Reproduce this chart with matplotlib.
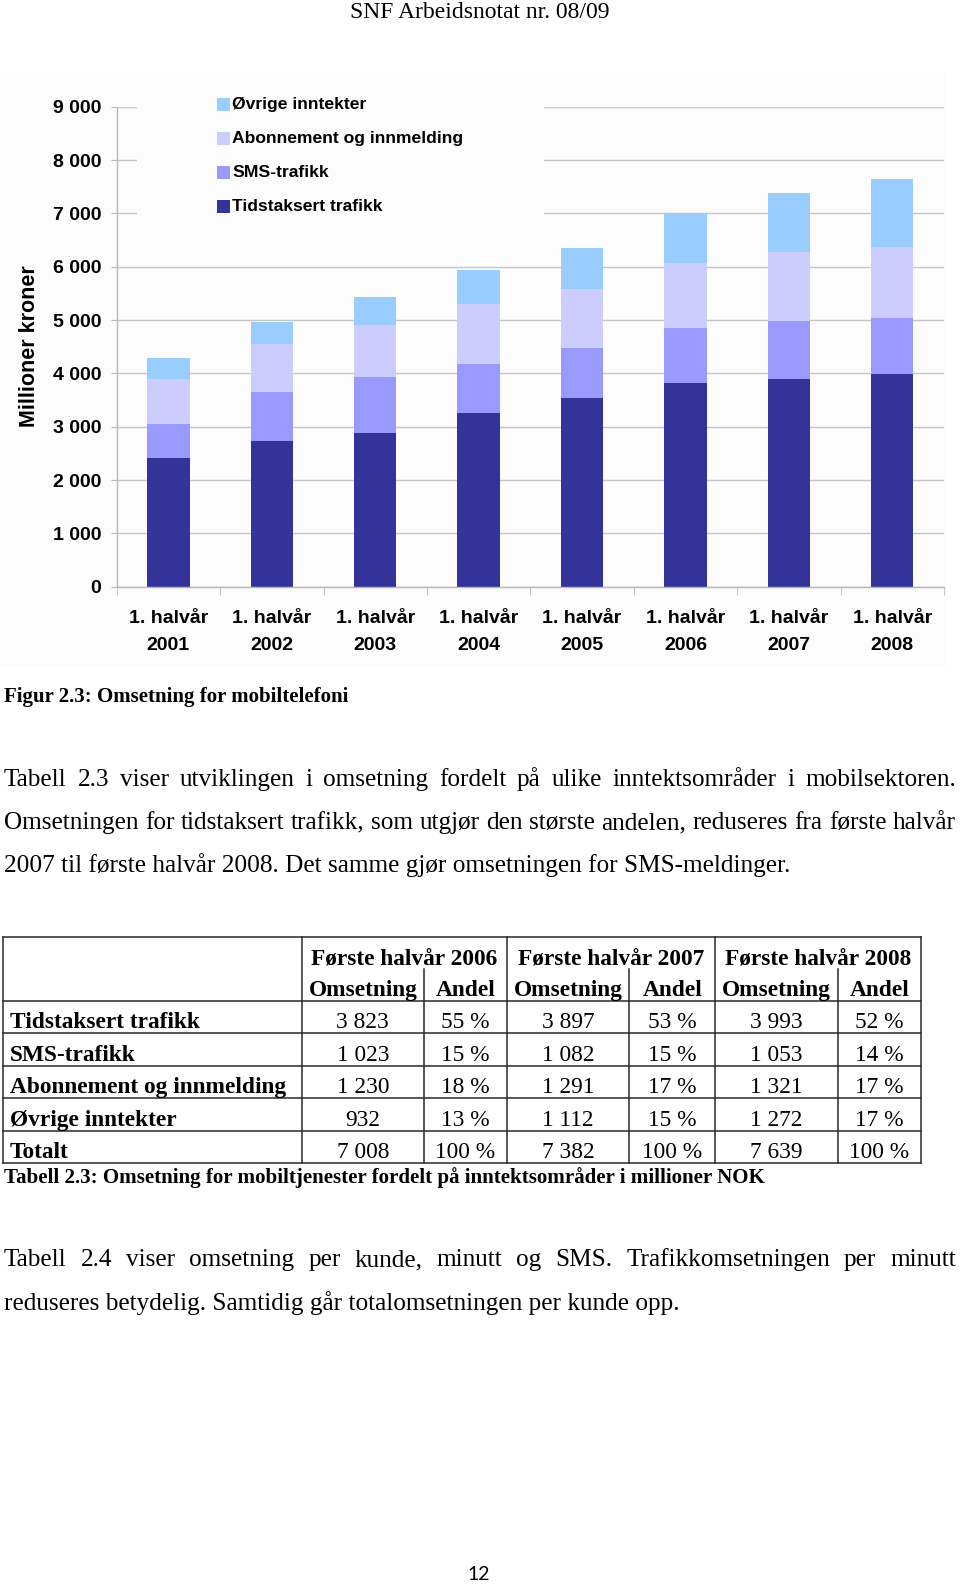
import numpy as np
import matplotlib
matplotlib.use("Agg")
import matplotlib.pyplot as plt
from matplotlib.patches import Rectangle
from matplotlib.lines import Line2D
from matplotlib.ticker import FuncFormatter

W, H = 960, 1585

# chart data (millioner kroner, first half of each year)
periods = ["1. halvår\n2001", "1. halvår\n2002", "1. halvår\n2003", "1. halvår\n2004",
           "1. halvår\n2005", "1. halvår\n2006", "1. halvår\n2007", "1. halvår\n2008"]
tidstaksert = [2420, 2730, 2880, 3265, 3530, 3823, 3897, 3993]
sms = [640, 920, 1045, 920, 940, 1023, 1082, 1053]
abonnement = [830, 900, 980, 1110, 1110, 1230, 1291, 1321]
ovrige = [395, 410, 520, 645, 765, 932, 1112, 1272]
series_names = ["Tidstaksert trafikk", "SMS-trafikk", "Abonnement og innmelding", "Øvrige inntekter"]
series_colors = ["#333399", "#9999ff", "#ccccff", "#99ccff"]

# table data
table_years = ["Første halvår 2006", "Første halvår 2007", "Første halvår 2008"]
table_rows = ["Tidstaksert trafikk", "SMS-trafikk", "Abonnement og innmelding", "Øvrige inntekter", "Totalt"]
omsetning_2006 = ["3 823", "1 023", "1 230", "932", "7 008"]
andel_2006 = ["55 %", "15 %", "18 %", "13 %", "100 %"]
omsetning_2007 = ["3 897", "1 082", "1 291", "1 112", "7 382"]
andel_2007 = ["53 %", "15 %", "17 %", "15 %", "100 %"]
omsetning_2008 = ["3 993", "1 053", "1 321", "1 272", "7 639"]
andel_2008 = ["52 %", "14 %", "17 %", "17 %", "100 %"]

paragraph1 = [
    "Tabell 2.3 viser utviklingen i omsetning fordelt på ulike inntektsområder i mobilsektoren.",
    "Omsetningen for tidstaksert trafikk, som utgjør den største andelen, reduseres fra første halvår",
    "2007 til første halvår 2008. Det samme gjør omsetningen for SMS-meldinger.",
]
paragraph2 = [
    "Tabell 2.4 viser omsetning per kunde, minutt og SMS. Trafikkomsetningen per minutt",
    "reduseres betydelig. Samtidig går totalomsetningen per kunde opp.",
]

plt.rcParams["font.family"] = "Liberation Sans"
fig = plt.figure(figsize=(W / 100, H / 100), dpi=100)
renderer = fig.canvas.get_renderer()


def fx(x):
    return x / W


def fy(y):
    return 1 - y / H


def put(x, y, s, **kw):
    return fig.text(fx(x), fy(y), s, **kw)


def hline(x0, x1, y, **kw):
    fig.add_artist(Line2D([fx(x0), fx(x1)], [fy(y), fy(y)], transform=fig.transFigure, **kw))


def vline(x, y0, y1, **kw):
    fig.add_artist(Line2D([fx(x), fx(x)], [fy(y0), fy(y1)], transform=fig.transFigure, **kw))


def justify(line, x0, x1, y, **kw):
    words = line.split(" ")
    texts = [put(x0, y, w, va="baseline", **kw) for w in words]
    widths = [t.get_window_extent(renderer).width for t in texts]
    gap = (x1 - x0 - sum(widths)) / (len(words) - 1)
    x = x0
    for t, w in zip(texts, widths):
        t.set_x(fx(x))
        x += w + gap


serif = dict(family="Liberation Serif", color="black")

# header
put(480, 13, "SNF Arbeidsnotat nr. 08/09", ha="center", va="center", fontsize=17, **serif)

# chart background
fig.add_artist(Rectangle((fx(0), fy(666)), 946 / W, (666 - 72) / H, transform=fig.transFigure,
                         facecolor="#fcfcfc", edgecolor="none", zorder=-1))

ax = fig.add_axes([fx(116.7), fy(586.7), (944 - 116.7) / W, 480 / H])
ax.set_facecolor("none")
x = np.arange(len(periods))
bottom = np.zeros(len(periods))
for vals, color, name in zip([tidstaksert, sms, abonnement, ovrige], series_colors, series_names):
    ax.bar(x, vals, 0.41, bottom=bottom, color=color, label=name, zorder=2)
    bottom += np.array(vals)
ax.set_xlim(-0.5, len(periods) - 0.5)
ax.set_ylim(0, 9000)
ax.set_yticks(np.arange(0, 9001, 1000))
ax.yaxis.set_major_formatter(FuncFormatter(lambda v, p: f"{int(v):,}".replace(",", " ")))
ax.grid(axis="y", color="#c6c6c6", lw=1.0)
ax.set_axisbelow(True)
for s in ["top", "right"]:
    ax.spines[s].set_visible(False)
for s in ["left", "bottom"]:
    ax.spines[s].set_color("#b8b8b8")
    ax.spines[s].set_linewidth(1.0)
ax.tick_params(axis="y", length=4.3, color="#b8b8b8", pad=7.0, labelsize=14)
ax.set_xticks(x)
ax.set_xticklabels(periods, fontsize=14, fontweight="bold", linespacing=1.82)
ax.set_xticks(np.arange(-0.5, len(periods)), minor=True)
ax.tick_params(axis="x", which="major", length=0, pad=16.5)
ax.tick_params(axis="x", which="minor", length=5.8, color="#b8b8b8")
for lbl in ax.get_yticklabels():
    lbl.set_fontweight("bold")

put(30, 346, "Millioner kroner", rotation=90, ha="center", va="center", fontsize=15.5, fontweight="bold")

# legend box covering the gridlines
fig.add_artist(Rectangle((fx(137), fy(230)), (544 - 137) / W, (230 - 90) / H, transform=fig.transFigure,
                         facecolor="#fcfcfc", edgecolor="none", zorder=3))
legend_y = [104.3, 138.3, 172.7, 206.7]
for yy, name, color in zip(legend_y, series_names[::-1], series_colors[::-1]):
    fig.add_artist(Rectangle((fx(217), fy(yy + 6.2)), 12.5 / W, 12.5 / H, transform=fig.transFigure,
                             facecolor=color, edgecolor="none", zorder=4))
    put(232, yy, name, ha="left", va="center", fontsize=12.6, fontweight="bold", zorder=5)

# figure caption
put(4, 702, "Figur 2.3: Omsetning for mobiltelefoni", ha="left", va="baseline",
    fontsize=15, fontweight="bold", **serif)

# paragraph 1
body_size = 18.2
justify(paragraph1[0], 4, 956, 786, fontsize=body_size, **serif)
justify(paragraph1[1], 4, 956, 829, fontsize=body_size, **serif)
put(4, 872, paragraph1[2], ha="left", va="baseline", fontsize=body_size, **serif)

# table grid
tl, tr, tt, tb = 3, 920.7, 936.7, 1163.3
row_lines = [1001, 1033.3, 1065.7, 1098.3, 1130.7]
group_x = [301.7, 506.7, 715, 920.7]
sub_x = [424, 629.3, 837.7]
lk = dict(color="#2a2a2a", lw=1.1)
hline(tl, tr, tt, **lk)
hline(tl, tr, tb, **lk)
for yy in row_lines:
    hline(tl, tr, yy, **lk)
vline(tl, tt, tb, **lk)
for xx in group_x:
    vline(xx, tt, tb, **lk)
for xx in sub_x:
    vline(xx, 969.3, tb, **lk)

tsize = 16.8
for i, year in enumerate(table_years):
    x0, x1, xs = group_x[i], group_x[i + 1], sub_x[i]
    put((x0 + x1) / 2, 965, year, ha="center", va="baseline", fontsize=tsize, fontweight="bold", **serif)
    put((x0 + xs) / 2, 996, "Omsetning", ha="center", va="baseline", fontsize=tsize, fontweight="bold", **serif)
    put((xs + x1) / 2, 996, "Andel", ha="center", va="baseline", fontsize=tsize, fontweight="bold", **serif)

row_bottoms = row_lines[1:] + [tb]
omsetning = [omsetning_2006, omsetning_2007, omsetning_2008]
andel = [andel_2006, andel_2007, andel_2008]
for r, (label, yb) in enumerate(zip(table_rows, row_bottoms)):
    yy = yb - 5
    put(10, yy, label, ha="left", va="baseline", fontsize=tsize, fontweight="bold", **serif)
    for i in range(3):
        x0, x1, xs = group_x[i], group_x[i + 1], sub_x[i]
        put((x0 + xs) / 2, yy, omsetning[i][r], ha="center", va="baseline", fontsize=tsize, **serif)
        put((xs + x1) / 2, yy, andel[i][r], ha="center", va="baseline", fontsize=tsize, **serif)

put(4, 1183, "Tabell 2.3: Omsetning for mobiltjenester fordelt på inntektsområder i millioner NOK",
    ha="left", va="baseline", fontsize=15.1, fontweight="bold", **serif)

# paragraph 2
justify(paragraph2[0], 4, 956, 1266, fontsize=body_size, **serif)
put(4, 1310, paragraph2[1], ha="left", va="baseline", fontsize=body_size, **serif)

# page number
put(479, 1575, "12", ha="center", va="center", fontsize=14, family="Lato")

fig.savefig("out.png", dpi=100)
